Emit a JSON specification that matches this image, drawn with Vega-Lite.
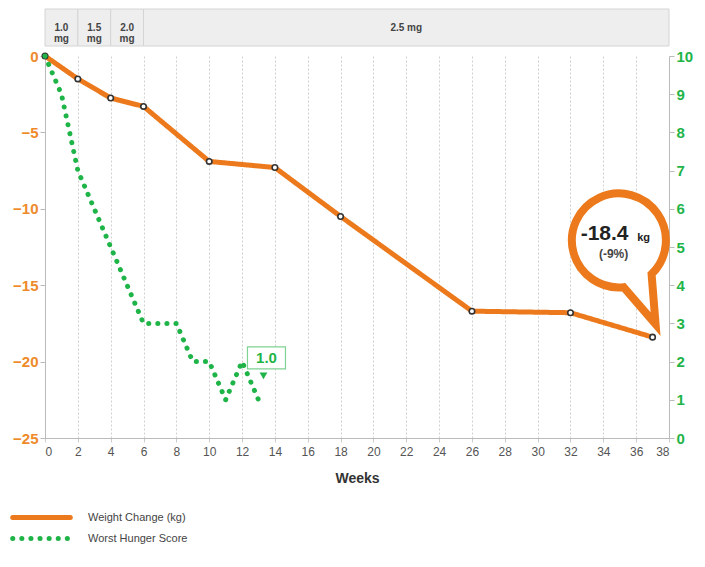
{
  "$schema": "https://vega.github.io/schema/vega-lite/v6.json",
  "padding": {"left": 12, "top": 8, "right": 5, "bottom": 5},
  "bounds": "flush",
  "spacing": 10,
  "config": {"view": {"stroke": null}, "font": "Liberation Sans"},
  "datasets": {
    "doses": [
      {"dose": "1.0\nmg", "start": 0, "end": 2},
      {"dose": "1.5\nmg", "start": 2, "end": 4},
      {"dose": "2.0\nmg", "start": 4, "end": 6},
      {"dose": "2.5 mg", "start": 6, "end": 38}
    ],
    "weight": [
      {"week": 0, "weight": 0},
      {"week": 2, "weight": -1.5},
      {"week": 4, "weight": -2.75},
      {"week": 6, "weight": -3.3},
      {"week": 10, "weight": -6.9},
      {"week": 14, "weight": -7.3},
      {"week": 18, "weight": -10.5},
      {"week": 26, "weight": -16.7},
      {"week": 32, "weight": -16.8},
      {"week": 37, "weight": -18.4}
    ],
    "hunger": [
      {"week": 0, "hunger": 10},
      {"week": 1, "hunger": 9},
      {"week": 2, "hunger": 7},
      {"week": 3, "hunger": 6},
      {"week": 4, "hunger": 5},
      {"week": 5, "hunger": 4},
      {"week": 6, "hunger": 3},
      {"week": 7, "hunger": 3},
      {"week": 8, "hunger": 3},
      {"week": 9, "hunger": 2},
      {"week": 10, "hunger": 2},
      {"week": 11, "hunger": 1},
      {"week": 12, "hunger": 2},
      {"week": 13, "hunger": 1}
    ]
  },
  "vconcat": [
    {
      "width": 624,
      "height": 37,
      "data": {"name": "doses"},
      "transform": [{"calculate": "(datum.start + datum.end) / 2", "as": "mid"}],
      "layer": [
        {
          "mark": {"type": "rect", "fill": "#eeeeee", "stroke": "#d4d4d4", "strokeWidth": 1},
          "encoding": {
            "x": {"field": "start", "type": "quantitative", "scale": {"domain": [0, 38], "nice": false}, "axis": null},
            "x2": {"field": "end"},
            "y": {"datum": 0, "type": "quantitative", "scale": {"domain": [0, 1]}, "axis": null},
            "y2": {"datum": 1}
          }
        },
        {
          "mark": {"type": "text", "lineBreak": "\n", "fontWeight": "bold", "fontSize": 10, "color": "#444", "lineHeight": 11},
          "encoding": {
            "x": {"field": "mid", "type": "quantitative"},
            "y": {"datum": 0.5, "type": "quantitative"},
            "text": {"field": "dose"}
          }
        }
      ]
    },
    {
      "width": 624,
      "height": 382,
      "encoding": {
        "x": {
          "field": "week", "type": "quantitative",
          "scale": {"domain": [0, 38], "nice": false},
          "axis": {
            "values": [0,2,4,6,8,10,12,14,16,18,20,22,24,26,28,30,32,34,36,38],
            "title": "Weeks", "titleFontSize": 14, "titleFontWeight": "bold", "titleColor": "#333", "titlePadding": 14,
            "labelColor": "#555", "labelFontSize": 12, "labelPadding": 4,
            "grid": true, "gridColor": "#d0d0d0", "gridDash": [2, 2],
            "domainColor": "#bbbbbb", "tickColor": "#cccccc", "tickSize": 4
          }
        }
      },
      "layer": [
        {
          "data": {"name": "weight"},
          "encoding": {
            "y": {
              "field": "weight", "type": "quantitative",
              "scale": {"domain": [-25, 0], "nice": false},
              "axis": {
                "orient": "left", "values": [0, -5, -10, -15, -20, -25], "title": null,
                "labelColor": "#ee8a2a", "labelFontWeight": "bold", "labelFontSize": 15,
                "domainColor": "#bbbbbb", "tickColor": "#bbbbbb", "tickSize": 5, "grid": false
              }
            }
          },
          "layer": [
            {
              "mark": {"type": "line", "strokeWidth": 5, "strokeCap": "round", "strokeJoin": "round"},
              "encoding": {
                "color": {"datum": "Weight Change (kg)", "type": "nominal",
                  "scale": {"domain": ["Weight Change (kg)", "Worst Hunger Score"], "range": ["#ec7a1c", "#1fb448"]},
                  "legend": {"orient": "none", "legendX": -14, "legendY": 498, "direction": "vertical", "title": null,
                    "symbolType": "M -3.6 0 L 3.6 0", "symbolSize": 256, "symbolStrokeWidth": 5, "labelFontSize": 11,
                    "labelColor": "#444", "labelOffset": 36, "rowPadding": 0,
                    "encode": {"symbols": {"update": {"strokeCap": {"value": "round"}}}}}},
                "strokeDash": {"datum": "Weight Change (kg)", "type": "nominal",
                  "scale": {"domain": ["Weight Change (kg)", "Worst Hunger Score"], "range": [[1, 0], [0.1, 9]]}}
              }
            },
            {
              "transform": [{"filter": "datum.week == 37"}],
              "mark": {"type": "point", "shape": "M -29 -50 L 3 -13 L -1 -63 A 47 47 0 1 0 -29 -50 Z", "size": 4,
                "fill": "white", "stroke": "#ec7a1c", "strokeWidth": 8, "strokeJoin": "miter", "opacity": 1, "fillOpacity": 1}
            },
            {
              "mark": {"type": "point", "size": 30, "fill": "white", "stroke": "#333", "strokeWidth": 1.6, "opacity": 1, "fillOpacity": 1}
            },
            {
              "transform": [{"filter": "datum.week == 37"}, {"calculate": "'' + datum.weight", "as": "lbl"}],
              "mark": {"type": "text", "fontSize": 21, "fontWeight": "bold", "color": "#222", "xOffset": -48, "yOffset": -103},
              "encoding": {"text": {"field": "lbl"}}
            },
            {
              "transform": [{"filter": "datum.week == 37"}],
              "mark": {"type": "text", "text": "kg", "fontSize": 11, "fontWeight": "bold", "color": "#222", "xOffset": -9, "yOffset": -99}
            },
            {
              "transform": [{"filter": "datum.week == 37"}],
              "mark": {"type": "text", "text": "(-9%)", "fontSize": 12, "fontWeight": "bold", "color": "#444", "xOffset": -39, "yOffset": -83}
            }
          ]
        },
        {
          "data": {"name": "hunger"},
          "encoding": {
            "y": {
              "field": "hunger", "type": "quantitative",
              "scale": {"domain": [0, 10], "nice": false},
              "axis": {
                "orient": "right", "values": [0,1,2,3,4,5,6,7,8,9,10], "title": null,
                "labelColor": "#1fb448", "labelFontWeight": "bold", "labelFontSize": 15,
                "domainColor": "#bbbbbb", "tickColor": "#bbbbbb", "tickSize": 5, "grid": false
              }
            }
          },
          "layer": [
            {
              "mark": {"type": "line", "strokeWidth": 5, "strokeCap": "round"},
              "encoding": {
                "color": {"datum": "Worst Hunger Score", "type": "nominal"},
                "strokeDash": {"datum": "Worst Hunger Score", "type": "nominal"}
              }
            },
            {
              "transform": [{"filter": "datum.week == 13"}],
              "mark": {"type": "rect", "width": 38, "height": 22, "fill": "white", "stroke": "#7fd494", "strokeWidth": 1.2, "xOffset": 8, "yOffset": -42}
            },
            {
              "transform": [{"filter": "datum.week == 13"}],
              "mark": {"type": "text", "fontSize": 15, "fontWeight": "bold", "color": "#1fb448", "xOffset": 8, "yOffset": -42},
              "encoding": {"text": {"field": "hunger", "format": ".1f"}}
            },
            {
              "transform": [{"filter": "datum.week == 13"}],
              "mark": {"type": "point", "shape": "triangle-down", "size": 60, "filled": true, "color": "#1fb448", "opacity": 1, "xOffset": 5, "yOffset": -24}
            }
          ]
        }
      ],
      "resolve": {"scale": {"y": "independent"}}
    }
  ]
}
